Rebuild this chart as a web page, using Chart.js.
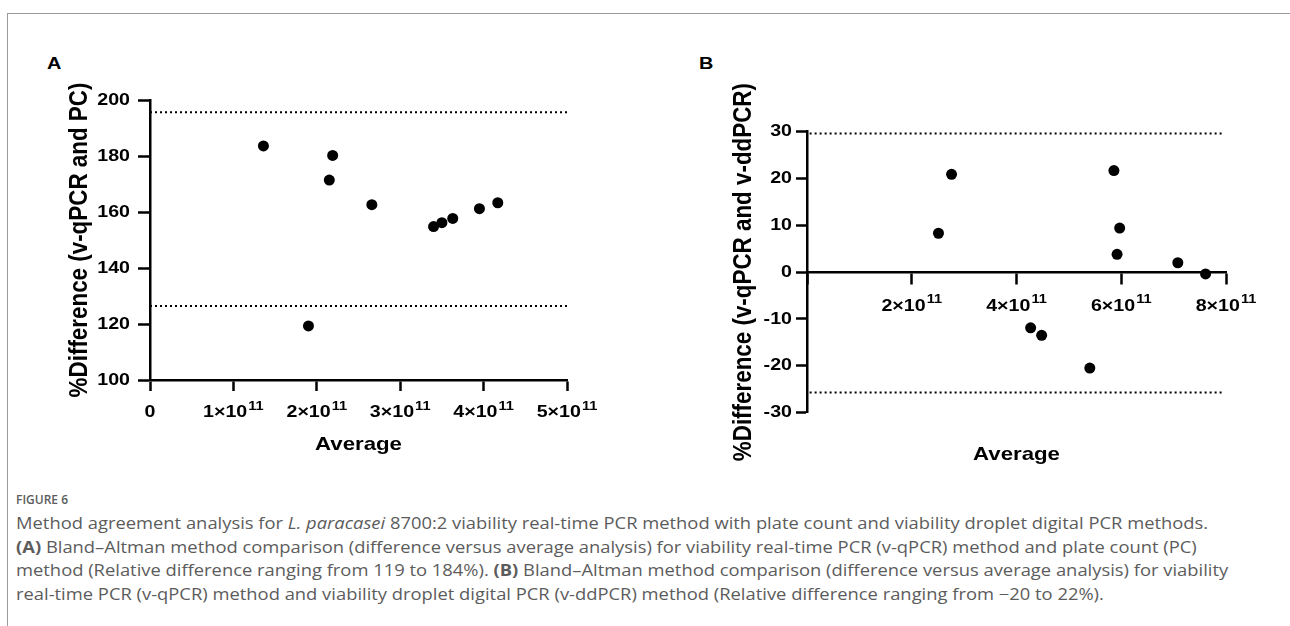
<!DOCTYPE html>
<html>
<head>
<meta charset="utf-8">
<script src="https://cdn.jsdelivr.net/npm/chart.js@4"></script>
<style>
  body { margin: 0; background: #fff; width: 1290px; height: 626px; overflow: hidden; position: relative; }
  #frame { position: absolute; left: 7px; top: 13px; width: 1290px; height: 620px; border-left: 1px solid #9a9a9a; border-top: 1px solid #9a9a9a; }
  .panel { position: absolute; font: bold 17px "Liberation Sans", Arial, sans-serif; line-height: 17px; color: #000; transform: scaleX(1.17); transform-origin: 0 0; }
  #chartA { position: absolute; left: 0; top: 0; }
  #chartB { position: absolute; left: 640px; top: 0; }
  .fig { position: absolute; left: 16px; top: 488px; font: 600 12px "Open Sans", sans-serif; line-height: 24px; color: #5c5c5c; }
  .txt { position: absolute; left: 16px; top: 512px; font: 15.5px "Open Sans", sans-serif; line-height: 23.5px; color: #5c5c5c; white-space: nowrap; transform: scaleX(1.185); transform-origin: 0 0; }
</style>
</head>
<body>
<div id="frame"></div>
<div class="panel" style="left:47px; top:54.5px;">A</div>
<div class="panel" style="left:699px; top:54.5px;">B</div>
<canvas id="chartA" width="640" height="470"></canvas>
<canvas id="chartB" width="650" height="470"></canvas>
<div class="fig">FIGURE 6</div>
<div class="txt">Method agreement analysis for <i>L. paracasei</i> 8700:2 viability real-time PCR method with plate count and viability droplet digital PCR methods.<br><b>(A)</b> Bland–Altman method comparison (difference versus average analysis) for viability real-time PCR (v-qPCR) method and plate count (PC)<br>method (Relative difference ranging from 119 to 184%). <b>(B)</b> Bland–Altman method comparison (difference versus average analysis) for viability<br>real-time PCR (v-qPCR) method and viability droplet digital PCR (v-ddPCR) method (Relative difference ranging from −20 to 22%).</div>
<script>
// Panel A: v-qPCR vs plate count
const avgA = [1.36e11, 1.90e11, 2.15e11, 2.19e11, 2.66e11, 3.40e11, 3.50e11, 3.63e11, 3.95e11, 4.17e11];
const diffA = [183.6, 119.3, 171.4, 180.2, 162.6, 154.8, 156.2, 157.7, 161.2, 163.3];
const limitsA = [195.6, 126.4];
const rangeA = [0, 5e11];

// Panel B: v-qPCR vs v-ddPCR
const avgB = [2.51e11, 2.76e11, 4.27e11, 4.48e11, 5.40e11, 5.86e11, 5.97e11, 5.92e11, 7.08e11, 7.61e11];
const diffB = [8.3, 20.9, -11.9, -13.5, -20.5, 21.7, 9.4, 3.8, 2.0, -0.4];
const limitsB = [29.6, -25.7];
const rangeB = [0.05e11, 7.95e11];

const FONT = '"Liberation Sans", Arial, sans-serif';
const STRETCH = 1.17; // the figure text is a bit wider than plain Arial
const tickFont = { family: FONT, size: 16.8, weight: 'bold' };
const yTitleFont = { family: FONT, size: 22.4, weight: 'bold' };
const xTitleFont = { family: FONT, size: 19, weight: 'bold' };

// widen all text drawn on the chart canvas (across the glyphs for rotated titles)
const textStretch = {
    id: 'textStretch',
    beforeDraw(chart) {
        const ctx = chart.ctx;
        if (ctx._stretched) return;
        ctx._stretched = true;
        const orig = ctx.fillText.bind(ctx);
        ctx.fillText = function (text, x, y) {
            const m = this.getTransform();
            this.save();
            this.translate(x, y);
            if (Math.abs(m.b) > 0.5) this.scale(1, STRETCH);
            else this.scale(STRETCH, 1);
            orig(text, 0, 0);
            this.restore();
        };
    }
};

// x tick labels as 1×10^11 with a real superscript
const sciTicks = {
    id: 'sciTicks',
    afterDraw(chart, args, opts) {
        const ctx = chart.ctx;
        const s = chart.scales.x;
        const axisY = opts.atZero ? chart.scales.y.getPixelForValue(0) : chart.chartArea.bottom;
        const yb = axisY + opts.baseline;
        const mainFont = 'bold ' + tickFont.size + 'px ' + FONT;
        const supFont = 'bold 12.5px ' + FONT;
        ctx.save();
        ctx.fillStyle = '#000';
        ctx.textBaseline = 'alphabetic';
        ctx.textAlign = 'left';
        s.ticks.forEach(t => {
            const px = s.getPixelForValue(t.value);
            const m = Math.round(t.value / 1e11);
            if (m === 0) {
                if (opts.hideZero) return;
                ctx.font = mainFont;
                const w = ctx.measureText('0').width * STRETCH;
                ctx.fillText('0', px - w / 2, yb);
                return;
            }
            const main = m + '×10', sup = '11';
            ctx.font = mainFont;
            const wm = ctx.measureText(main).width * STRETCH;
            ctx.font = supFont;
            const ws = ctx.measureText(sup).width * STRETCH;
            const x0 = px - (wm + ws + 1) / 2;
            ctx.font = mainFont;
            ctx.fillText(main, x0, yb);
            ctx.font = supFont;
            ctx.fillText(sup, x0 + wm + 1, yb - 7.5);
        });
        ctx.restore();
    }
};

function points(xs, ys) {
    return xs.map((x, i) => ({ x: x, y: ys[i] }));
}

function limitLines(range, limits) {
    return limits.map(v => ({
        type: 'line',
        data: [{ x: range[0], y: v }, { x: range[1], y: v }],
        borderColor: '#000',
        borderWidth: 2,
        borderDash: [2, 3],
        pointRadius: 0,
        fill: false
    }));
}

function axisGrid(len) {
    return { display: true, drawOnChartArea: false, drawTicks: true, tickLength: len, tickWidth: 2.5, tickColor: '#000' };
}

const border = { display: true, color: '#000', width: 2.5 };

Chart.defaults.font.family = FONT;
Chart.defaults.color = '#000';

new Chart(document.getElementById('chartA'), {
    type: 'scatter',
    data: {
        datasets: [{
            data: points(avgA, diffA),
            backgroundColor: '#000',
            borderWidth: 0,
            pointRadius: 5.5
        }].concat(limitLines(rangeA, limitsA))
    },
    plugins: [textStretch, sciTicks],
    options: {
        responsive: false,
        animation: false,
        layout: { padding: { left: 0, top: 100, right: 73, bottom: 0 } },
        plugins: {
            legend: { display: false },
            tooltip: { enabled: false },
            sciTicks: { atZero: false, baseline: 37, hideZero: false }
        },
        scales: {
            x: {
                type: 'linear', position: 'bottom', min: 0, max: 5e11,
                afterFit: s => { s.height = 90; },
                grid: axisGrid(11), border: border,
                ticks: { stepSize: 1e11, autoSkip: false, display: false },
                title: { display: true, text: 'Average', font: xTitleFont, color: '#000', padding: { top: 0, bottom: 13.6 } }
            },
            y: {
                type: 'linear', position: 'left', min: 100, max: 200,
                afterFit: s => { s.width = 150; },
                grid: axisGrid(12), border: border,
                ticks: { stepSize: 20, padding: 8, font: tickFont, color: '#000' },
                title: { display: true, text: '%Difference (v-qPCR and PC)', font: yTitleFont, color: '#000', padding: { top: 66, bottom: 0 } }
            }
        }
    }
});

new Chart(document.getElementById('chartB'), {
    type: 'scatter',
    data: {
        datasets: [{
            data: points(avgB, diffB),
            backgroundColor: '#000',
            borderWidth: 0,
            pointRadius: 5.5
        }].concat(limitLines(rangeB, limitsB))
    },
    plugins: [textStretch, sciTicks],
    options: {
        responsive: false,
        animation: false,
        layout: { padding: { left: 0, top: 131.7, right: 64, bottom: 0 } },
        plugins: {
            legend: { display: false },
            tooltip: { enabled: false },
            sciTicks: { atZero: true, baseline: 38.5, hideZero: true },
            title: {
                display: true, position: 'bottom', fullSize: false, text: 'Average',
                font: xTitleFont, color: '#000', padding: { top: 31.1, bottom: 3.6 }
            }
        },
        scales: {
            x: {
                type: 'linear', position: { y: 0 }, min: 0, max: 8e11,
                afterFit: s => { s.height = 0; },
                grid: axisGrid(11), border: border,
                ticks: { stepSize: 2e11, autoSkip: false, display: false }
            },
            y: {
                type: 'linear', position: 'left', min: -30, max: 30,
                afterFit: s => { s.width = 167; },
                grid: axisGrid(11), border: border,
                ticks: { stepSize: 10, padding: 4, font: tickFont, color: '#000' },
                title: { display: true, text: '%Difference (v-qPCR and v-ddPCR)', font: yTitleFont, color: '#000', padding: { top: 90.5, bottom: 0 } }
            }
        }
    }
});
</script>
</body>
</html>
